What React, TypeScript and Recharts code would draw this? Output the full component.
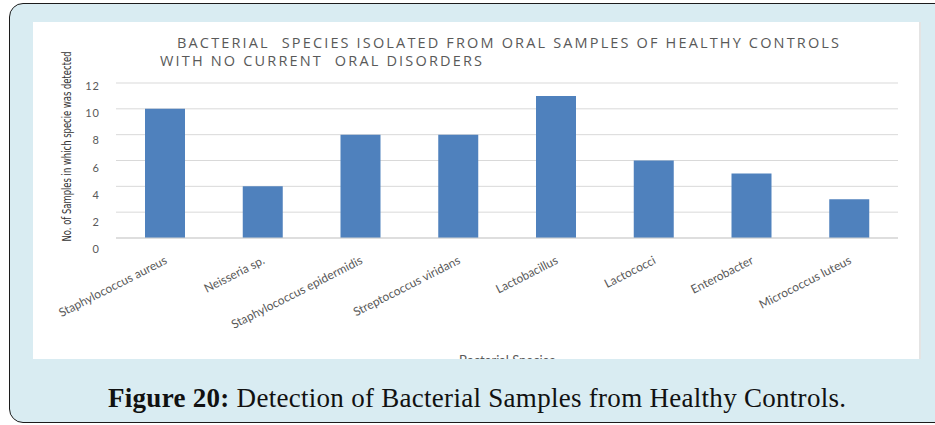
import React from 'react'
import { BarChart, Bar, XAxis, YAxis, CartesianGrid } from 'recharts'

const categories = [
  'Staphylococcus aureus',
  'Neisseria sp.',
  'Staphylococcus epidermidis',
  'Streptococcus viridans',
  'Lactobacillus',
  'Lactococci',
  'Enterobacter',
  'Micrococcus luteus',
]
const detections = [10, 4, 8, 8, 11, 6, 5, 3]
const yTicks = [0, 2, 4, 6, 8, 10, 12]

const titleLines = [
  'BACTERIAL  SPECIES ISOLATED FROM ORAL SAMPLES OF HEALTHY CONTROLS',
  'WITH NO CURRENT  ORAL DISORDERS',
]

const data = categories.map((name, i) => ({ name, count: detections[i] }))

const FONT = 'Lato, "Open Sans", sans-serif'
const TITLE_FONT = '"Open Sans", Lato, sans-serif'
const NARROW = '"Liberation Sans Narrow", "DejaVu Sans Condensed", sans-serif'
const GREY = '#595959'

// y labels sit a little under their gridlines, drifting lower toward zero
function YTick({ x, y, payload }: any) {
  const drift = 2.5 + (12 - payload.value) * 0.7
  return (
    <text
      x={x}
      y={y + drift}
      textAnchor="end"
      dominantBaseline="central"
      fontFamily={FONT}
      fontSize={11}
      letterSpacing={1}
      fill={GREY}
    >
      {payload.value}
    </text>
  )
}

function XTick({ x, y, payload }: any) {
  const tx = x + 3
  const ty = y + 17
  return (
    <text
      x={tx}
      y={ty}
      textAnchor="end"
      transform={`rotate(-27, ${tx}, ${ty})`}
      fontFamily={FONT}
      fontSize={12}
      fill={GREY}
    >
      {payload.value}
    </text>
  )
}

// squeezed along its length so it fits beside the plot
function YTitle({ viewBox }: any) {
  const cx = viewBox.x + 34
  const cy = viewBox.y + viewBox.height / 2 - 14
  return (
    <g transform={`translate(${cx}, ${cy}) rotate(-90) scale(0.75, 1)`}>
      <text
        x={0}
        y={0}
        textAnchor="middle"
        dominantBaseline="central"
        fontFamily={NARROW}
        fontSize={12.5}
        fill="#333"
      >
        No. of Samples in which specie was detected
      </text>
    </g>
  )
}

export default function App() {
  return (
    <div style={{ position: 'absolute', left: 0, top: 0, width: 935, height: 425, overflow: 'hidden', background: '#fff' }}>
      <div
        style={{
          position: 'absolute',
          left: 9,
          top: 3,
          width: 960,
          height: 418,
          border: '1.5px solid #1c1c1c',
          borderRadius: 14,
          background: '#d9ecf2',
        }}
      />
      <div
        style={{
          position: 'absolute',
          left: 33,
          top: 22,
          width: 886,
          height: 337,
          background: '#fff',
          borderRight: '2px solid #e4e4e4',
          overflow: 'hidden',
        }}
      >
        <BarChart
          width={886}
          height={360}
          data={data}
          margin={{ top: 61, right: 21, bottom: 0, left: 0 }}
          barSize={40}
        >
          <CartesianGrid vertical={false} stroke="#d9d9d9" />
          <XAxis
            dataKey="name"
            interval={0}
            height={144}
            tickLine={false}
            axisLine={{ stroke: '#d0d0d0' }}
            tick={<XTick />}
            label={{
              value: 'Bacterial Species',
              position: 'insideBottom',
              offset: 17,
              fill: GREY,
              fontFamily: FONT,
              fontSize: 13,
            }}
          />
          <YAxis
            width={83}
            domain={[0, 12]}
            ticks={yTicks}
            interval={0}
            tickLine={false}
            axisLine={false}
            tickSize={0}
            tickMargin={16}
            tick={<YTick />}
            label={{ content: <YTitle /> }}
          />
          <Bar dataKey="count" fill="#4f81bd" isAnimationActive={false} />
        </BarChart>
        <svg width={886} height={60} style={{ position: 'absolute', left: 0, top: 0 }}>
          <text
            x={144}
            y={20}
            dominantBaseline="central"
            fontFamily={TITLE_FONT}
            fontSize={14.5}
            fill={GREY}
            textLength={662}
            style={{ whiteSpace: 'pre' }}
          >
            {titleLines[0]}
          </text>
          <text
            x={127}
            y={38}
            dominantBaseline="central"
            fontFamily={TITLE_FONT}
            fontSize={14.5}
            fill={GREY}
            textLength={322}
            style={{ whiteSpace: 'pre' }}
          >
            {titleLines[1]}
          </text>
        </svg>
      </div>
      <svg width={935} height={425} style={{ position: 'absolute', left: 0, top: 0, pointerEvents: 'none' }}>
        <text
          x={108}
          y={407}
          fontFamily='"Liberation Serif", "DejaVu Serif", serif'
          fontSize={27}
          fill="#111"
          textLength={738}
        >
          <tspan fontWeight="bold">Figure 20:</tspan> Detection of Bacterial Samples from Healthy Controls.
        </text>
      </svg>
    </div>
  )
}
